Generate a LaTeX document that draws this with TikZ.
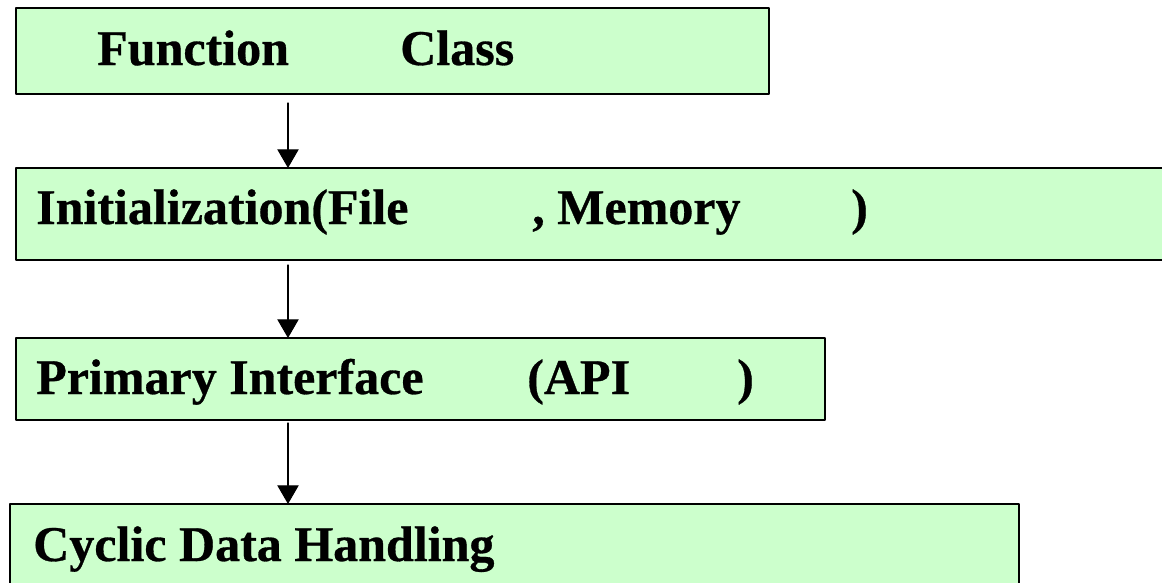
\documentclass[tikz,border=0pt]{standalone}
\usepackage{fontspec}
\setmainfont{Liberation Serif}[BoldFeatures={FakeBold=0.6}]
\usepackage{xcolor}
\usetikzlibrary{arrows.meta}
\definecolor{BoxGreen}{HTML}{CCFFCC}
\newcommand{\px}{0.75pt}

\begin{document}
\begin{tikzpicture}[line cap=round,line join=round,x=0.75pt,y=-0.75pt,
  box/.style={draw=black,fill=BoxGreen,line width=1.1pt,line cap=butt,
    rectangle,inner sep=0pt,outer sep=0pt,anchor=north west},
  lbl/.style={anchor=base west,inner sep=0pt,
    font=\bfseries\fontsize{37.5}{40}\selectfont},
  flow/.style={->,>={Triangle[width=16pt,length=14pt]},line width=0.8pt}]
  \useasboundingbox (0,0) rectangle (1162,582);
  \coordinate (axis) at (288,0);
  % boxes
  \node[box,minimum width=753*\px,minimum height=86*\px] (func) at (16,8) {};
  \node[box,minimum width=1159*\px,minimum height=92*\px] (init) at (16,168) {};
  \node[box,minimum width=809*\px,minimum height=82*\px] (api) at (16,338) {};
  \node[box,minimum width=1009*\px,minimum height=96*\px] (cyc) at (10,504) {};
  % texts
  \node[lbl] (funcA) at (97,65) {Function};
  \node[lbl] (funcB) at (400,65) {Class};
  \node[lbl] (initA) at (36,224) {Initialization(File};
  \node[lbl] (initB) at (532,224) {, Memory};
  \node[lbl] (initC) at (851,224) {)};
  \node[lbl] (apiA) at (36,394) {Primary Interface};
  \node[lbl] (apiB) at (527,394) {(API};
  \node[lbl] (apiC) at (737,394) {)};
  \node[lbl] (cycA) at (33,561) {Cyclic Data Handling};
  % arrows
  \draw[flow,shorten <=9*\px] (func.south -| axis) -- (init.north -| axis);
  \draw[flow,shorten <=5*\px] (init.south -| axis) -- (api.north -| axis);
  \draw[flow,shorten <=3*\px] (api.south -| axis) -- (cyc.north -| axis);
\end{tikzpicture}
\end{document}
